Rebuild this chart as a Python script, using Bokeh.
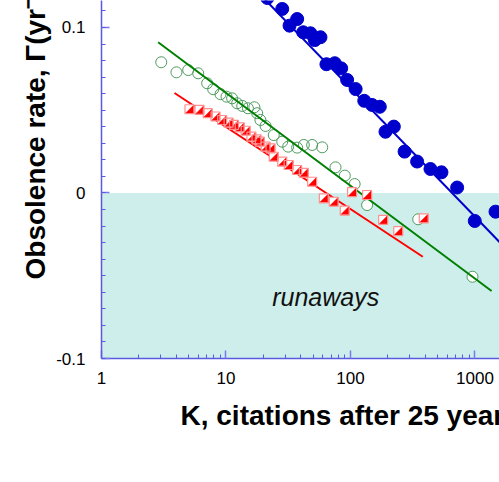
from bokeh.plotting import figure
from bokeh.models import Range1d, FixedTicker, BoxAnnotation, Label, Title
from bokeh.embed import file_html
from bokeh.resources import INLINE

# ---- data ----
green_k = [3.02, 4.00, 4.97, 5.98, 7.06, 7.89, 9.03, 10.1, 11.2, 12.3, 13.5, 15.0, 16.9, 17.8,
           18.9, 20.8, 24.2, 28.3, 31.6, 37.3, 42.2, 49.2, 59.3, 75.8, 90.0, 108, 136, 350, 955]
green_g = [0.0790, 0.0729, 0.0743, 0.0723, 0.0663, 0.0627, 0.0597, 0.0582, 0.0572, 0.0542, 0.0526,
           0.0512, 0.0518, 0.0482, 0.0441, 0.0405, 0.0350, 0.0310, 0.0280, 0.0274, 0.0290, 0.0290,
           0.0276, 0.0155, 0.0105, 0.0054, -0.0073, -0.0159, -0.0506]

red_k = [5.09, 6.13, 7.14, 8.24, 9.32, 10.5, 11.6, 12.9, 14.4, 16.0, 17.6, 18.7, 20.8, 22.8,
         24.2, 28.3, 31.9, 37.3, 42.2, 49.2, 61.1, 73.4, 90.0, 103, 136, 183, 242, 388]
red_g = [0.0506, 0.0502, 0.0482, 0.0462, 0.0441, 0.0425, 0.0411, 0.0397, 0.0376, 0.0340, 0.0324,
         0.0310, 0.0280, 0.0270, 0.0219, 0.0189, 0.0169, 0.0139, 0.0122, 0.0068, -0.0032, -0.0053,
         -0.0106, 0.0005, -0.0012, -0.0163, -0.0230, -0.0153]

blue_k = [21.5, 28.3, 32.4, 37.3, 41.7, 47.7, 51.7, 57.4, 64.1, 74.8, 84.2, 94.0, 110, 129, 149,
          172, 191, 223, 272, 343, 439, 538, 719, 996, 1462]
blue_g = [0.1178, 0.1112, 0.1011, 0.1051, 0.0971, 0.0965, 0.0924, 0.0941, 0.0778, 0.0784, 0.0753,
          0.0683, 0.0628, 0.0557, 0.0532, 0.0521, 0.0370, 0.0401, 0.0250, 0.0190, 0.0145, 0.0125,
          0.0033, -0.0169, -0.0113]

# fitted lines (end points)
green_fit_k = [2.85, 1360]
green_fit_g = [0.0911, -0.0592]
red_fit_k = [3.86, 381]
red_fit_g = [0.0604, -0.0385]
blue_fit_k = [18, 1700]
blue_fit_g = [0.1214, -0.0322]

x_ticks = [1, 10, 100, 1000]
y_ticks = [-0.1, 0, 0.1]
y_tick_labels = ["-0.1", "0", "0.1"]

# ---- figure ----
p = figure(width=499, height=482, x_axis_type="log",
           x_range=Range1d(1, 1574), y_range=Range1d(-0.1, 0.1163),
           output_backend="svg", toolbar_location=None,
           min_border_left=101, min_border_right=0, min_border_top=0, min_border_bottom=124)
p.outline_line_color = None
p.grid.visible = False
p.background_fill_color = "white"
p.border_fill_color = "white"

p.add_layout(BoxAnnotation(top=0, fill_color="#cdeeeb", fill_alpha=1.0, line_alpha=0, level="underlay"))

axis_col = "#5a5ae0"
for ax in (p.xaxis[0], p.yaxis[0]):
    ax.axis_line_color = axis_col
    ax.axis_line_width = 1.5
    ax.major_tick_in = 8
    ax.major_tick_out = 0
    ax.minor_tick_in = 4
    ax.minor_tick_out = 0
    ax.major_tick_line_color = "#7a7aee"
    ax.major_tick_line_width = 1.5
    ax.minor_tick_line_color = axis_col
    ax.major_label_text_font = "Liberation Sans"
    ax.major_label_text_font_size = "17px"
    ax.major_label_text_color = "#000000"

p.xaxis[0].ticker = FixedTicker(ticks=x_ticks,
                                minor_ticks=[m * 10 ** e for e in range(4) for m in range(2, 10)])
p.xaxis[0].major_label_overrides = {t: str(t) for t in x_ticks}
p.xaxis[0].major_label_standoff = 13

p.yaxis[0].ticker = FixedTicker(ticks=y_ticks,
                                minor_ticks=[round(-0.1 + 0.01 * i, 2) for i in range(22)])
p.yaxis[0].major_label_overrides = dict(zip(y_ticks, y_tick_labels))
p.yaxis[0].major_label_standoff = 16

# green open circles (white fill first, then all outlines)
p.scatter(green_k, green_g, marker="circle", size=11, fill_color="white", line_alpha=0)
p.scatter(green_k, green_g, marker="circle", size=11, fill_alpha=0, line_color="#4f9a5f", line_width=1)
p.line(green_fit_k, green_fit_g, line_color="#008000", line_width=2)

# red half-filled squares
p.line(red_fit_k, red_fit_g, line_color="#ff0000", line_width=2)
p.scatter(red_k, red_g, marker="square", size=9, fill_color="white", line_alpha=0)
fx = 10 ** (4.0 / 124.5)
dy = 4.0 / 1655
tri_xs = [[k * fx, k * fx, k / fx] for k in red_k]
tri_ys = [[g + dy, g - dy, g - dy] for g in red_g]
p.patches(tri_xs, tri_ys, fill_color="#ff0000", line_color="#ff0000", line_width=0.5)
p.scatter(red_k, red_g, marker="square", size=9, fill_alpha=0, line_color="#ff8f8f", line_width=1.2)

# blue filled circles
p.line(blue_fit_k, blue_fit_g, line_color="#0000cc", line_width=2)
p.scatter(blue_k, blue_g, marker="circle", size=13, fill_color="#0000cc", line_color="#0000cc")

# texts
p.add_layout(Label(x=23.5, y=-0.0628, text="runaways", text_font="Liberation Sans",
                   text_font_style="italic", text_font_size="25px", text_color="#111111",
                   text_align="left", text_baseline="alphabetic"))
p.add_layout(Title(text="K, citations after 25 years", align="left", offset=79, standoff=23,
                   text_font="Liberation Sans", text_font_style="bold", text_font_size="28px",
                   text_color="#000000"), "below")
p.add_layout(Title(text="Obsolence rate, \u0393(yr\u207b\u00b9)", align="left", offset=79, standoff=5,
                   text_font="Liberation Sans", text_font_style="bold", text_font_size="28px",
                   text_color="#000000"), "left")

open("out.html", "w").write(file_html(p, INLINE))
